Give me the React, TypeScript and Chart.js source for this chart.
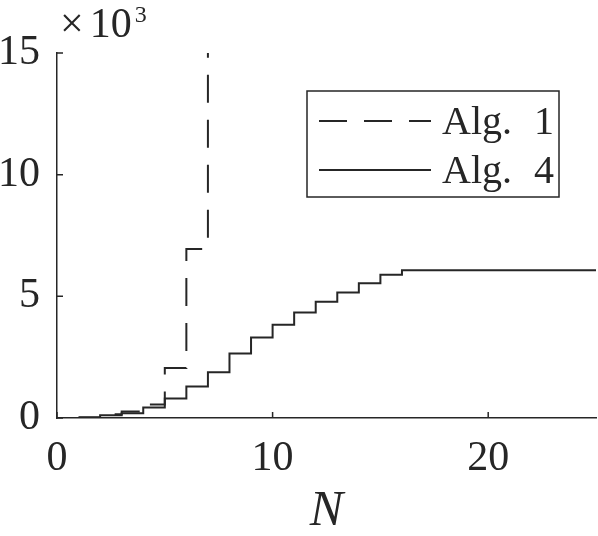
import React, { useEffect, useRef } from 'react';
import { Chart, registerables } from 'chart.js';

Chart.register(...registerables);

const alg1N = [1, 2, 3, 4, 5, 6, 7];
const alg1Values = [30, 150, 270, 550, 2050, 6950, 24000];
const alg4N = [1, 2, 3, 4, 5, 6, 7, 8, 9, 10, 11, 12, 13, 14, 15, 16, 17, 18, 19, 20, 21, 22, 23, 24, 25];
const alg4Values = [10, 110, 200, 430, 800, 1290, 1880, 2650, 3310, 3830, 4340, 4780, 5160, 5540, 5890, 6070, 6070, 6070, 6070, 6070, 6070, 6070, 6070, 6070, 6070];
const seriesLabels = ['Alg. 1', 'Alg. 4'];
const xTicks = [0, 10, 20];
const yTicks = [0, 5000, 10000, 15000];
const xRange = [0, 25];
const yRange = [0, 15000];

const INK = '#262626';
const SERIF = '"Liberation Serif"';

const decorPlugin = {
  id: 'decor',
  afterDraw(chart: any) {
    const { ctx, chartArea } = chart;
    const xs = chart.scales.x;
    const ys = chart.scales.y;
    ctx.save();
    // inward ticks
    ctx.strokeStyle = INK;
    ctx.lineWidth = 1.5;
    ctx.beginPath();
    xs.ticks.forEach((t: any) => {
      const px = xs.getPixelForValue(t.value);
      ctx.moveTo(px, chartArea.bottom);
      ctx.lineTo(px, chartArea.bottom - 6);
    });
    ys.ticks.forEach((t: any) => {
      const py = ys.getPixelForValue(t.value);
      ctx.moveTo(chartArea.left, py);
      ctx.lineTo(chartArea.left + 6, py);
    });
    ctx.stroke();

    // exponent label
    ctx.fillStyle = INK;
    ctx.textBaseline = 'alphabetic';
    ctx.textAlign = 'left';
    ctx.font = `42px ${SERIF}`;
    const bx = chartArea.left + 3;
    const by = chartArea.top - 16;
    ctx.fillText('\u00d7', bx, by);
    const tw = ctx.measureText('\u00d7').width;
    ctx.fillText('10', bx + tw + 6, by);
    const dw = ctx.measureText('10').width;
    ctx.font = `24px ${SERIF}`;
    ctx.fillText('3', bx + tw + 6 + dw + 3, by - 15);

    // legend
    const boxL = chartArea.left + 250;
    const boxT = chartArea.top + 38;
    const boxW = 252;
    const boxH = 106;
    ctx.fillStyle = '#ffffff';
    ctx.fillRect(boxL, boxT, boxW, boxH);
    ctx.strokeStyle = INK;
    ctx.lineWidth = 1.5;
    ctx.setLineDash([]);
    ctx.strokeRect(boxL, boxT, boxW, boxH);
    chart.data.datasets.forEach((ds: any, i: number) => {
      const ly = boxT + 30 + i * 49;
      ctx.strokeStyle = ds.borderColor;
      ctx.lineWidth = ds.borderWidth;
      ctx.setLineDash(ds.borderDash || []);
      ctx.beginPath();
      ctx.moveTo(boxL + 12, ly);
      ctx.lineTo(boxL + 124, ly);
      ctx.stroke();
      ctx.setLineDash([]);
      ctx.fillStyle = INK;
      ctx.font = `40px ${SERIF}`;
      ctx.textBaseline = 'middle';
      (ctx as any).wordSpacing = '12px';
      ctx.fillText(ds.label, boxL + 135, ly + 2);
      (ctx as any).wordSpacing = '0px';
    });
    ctx.restore();
  },
};

export default function App() {
  const canvasRef = useRef<HTMLCanvasElement>(null);

  useEffect(() => {
    if (!canvasRef.current) return;
    const chart = new Chart(canvasRef.current, {
      type: 'line',
      data: {
        datasets: [
          {
            label: seriesLabels[0],
            data: alg1N.map((n, i) => ({ x: n, y: alg1Values[i] })),
            borderColor: INK,
            borderWidth: 2,
            borderDash: [28, 17],
            borderDashOffset: 6,
            stepped: 'before',
            pointRadius: 0,
            fill: false,
          },
          {
            label: seriesLabels[1],
            data: alg4N.map((n, i) => ({ x: n, y: alg4Values[i] })),
            borderColor: INK,
            borderWidth: 2,
            stepped: 'before',
            pointRadius: 0,
            fill: false,
          },
        ],
      },
      options: {
        animation: false,
        responsive: false,
        maintainAspectRatio: false,
        layout: { padding: { top: 53, right: 2, left: 0, bottom: 0 } },
        plugins: { legend: { display: false }, tooltip: { enabled: false } },
        scales: {
          x: {
            type: 'linear',
            min: xRange[0],
            max: xRange[1],
            afterBuildTicks: (s: any) => { s.ticks = xTicks.map((v) => ({ value: v })); },
            afterFit: (s: any) => { s.height = 118; },
            grid: { display: false, drawTicks: false },
            border: { display: true, color: INK, width: 1.5 },
            ticks: {
              color: INK,
              padding: 16,
              font: { family: SERIF, size: 42 },
              callback: (v: any) => String(v),
            },
            title: {
              display: true,
              text: 'N',
              color: INK,
              font: { family: SERIF, size: 50, style: 'italic', lineHeight: 0.8 },
            },
          },
          y: {
            type: 'linear',
            min: yRange[0],
            max: yRange[1],
            afterBuildTicks: (s: any) => { s.ticks = yTicks.map((v) => ({ value: v })); },
            afterFit: (s: any) => { s.width = 57; },
            grid: { display: false, drawTicks: false },
            border: { display: true, color: INK, width: 1.5 },
            ticks: {
              color: INK,
              padding: 17,
              font: { family: SERIF, size: 42 },
              callback: (v: any) => String(Number(v) / 1000),
            },
          },
        },
      },
      plugins: [decorPlugin],
    });
    return () => chart.destroy();
  }, []);

  return (
    <div style={{ position: 'absolute', left: 0, top: 0, width: 598, height: 536, background: '#fff' }}>
      <canvas ref={canvasRef} width={598} height={536} style={{ width: 598, height: 536 }} />
    </div>
  );
}
